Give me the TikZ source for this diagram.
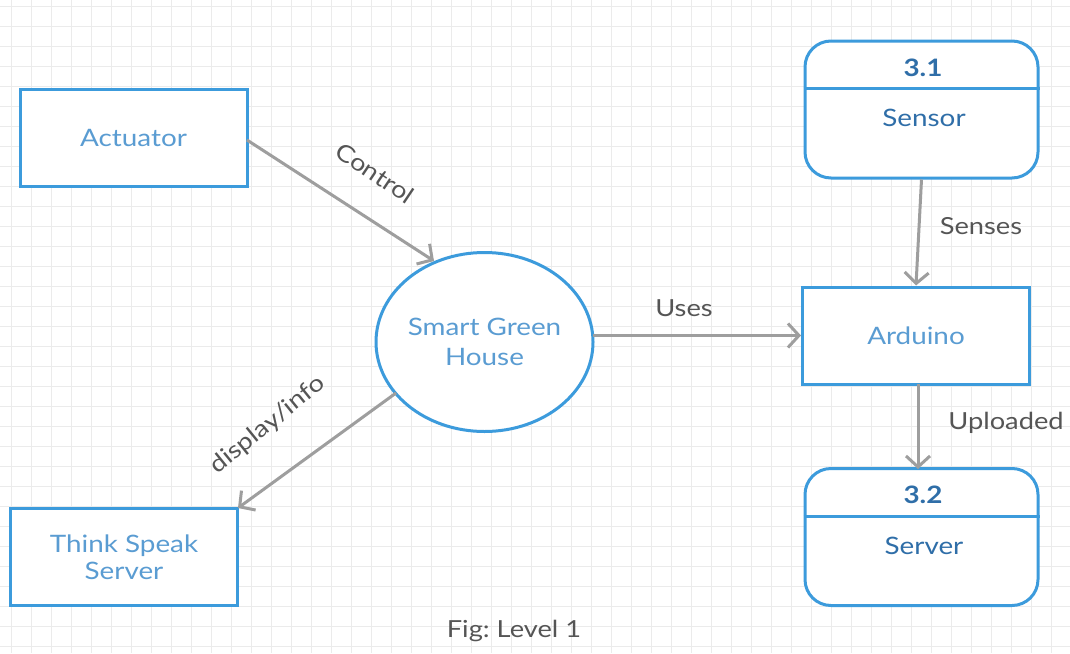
\documentclass[tikz,border=0pt]{standalone}
\usepackage{fontspec}
\setmainfont{Lato}
\newfontfamily\widefont[FakeStretch=1.16]{Lato}
\frenchspacing
\usetikzlibrary{arrows.meta,shapes.geometric}
\definecolor{boxblue}{HTML}{3C9BDC}
\definecolor{txtblue}{HTML}{5A9CD2}
\definecolor{darkblue}{HTML}{2F6EA8}
\definecolor{arrgray}{HTML}{9E9E9E}
\definecolor{lblgray}{HTML}{555555}
\definecolor{gridc}{HTML}{EBEBEB}
\begin{document}
\begin{tikzpicture}[x=1pt,y=-1pt,
  ext/.style={draw=boxblue,line width=3pt,fill=white,rectangle,minimum width=227pt,minimum height=97pt,inner sep=0pt,align=center,text=txtblue,font=\widefont\fontsize{24}{28}\selectfont},
  proc/.style={draw=boxblue,line width=3pt,fill=white,rectangle,rounded corners=26pt,minimum width=233pt,minimum height=137pt,inner sep=0pt},
  flow/.style={draw=arrgray,line width=3pt,-{Straight Barb[length=11pt,width=24pt,line width=3pt]}},
  lbl/.style={text=lblgray,font=\widefont\fontsize{23.5}{27}\selectfont},
  ptitle/.style={text=darkblue,font=\widefont\bfseries\fontsize{24}{28}\selectfont},
  pname/.style={text=darkblue,font=\widefont\fontsize{24}{28}\selectfont}]
\useasboundingbox (0,0) rectangle (1070,653);
\fill[white] (0,0) rectangle (1070,653);
\foreach \i in {0,...,53} {\draw[gridc,line width=1pt] (11+20*\i,0) -- (11+20*\i,653);}
\foreach \j in {0,...,32} {\draw[gridc,line width=1pt] (0,6+20*\j) -- (1070,6+20*\j);}
% external entities
\node[ext] (act) at (133.5,137.5) {Actuator};
\node[ext] (tss) at (124,557) {Think Speak\\[-1pt]Server};
\node[ext] (ard) at (916,335.5) {Arduino};
% central process
\node[draw=boxblue,line width=3pt,fill=white,ellipse,minimum width=217pt,minimum height=179pt,inner sep=0pt,align=center,text=txtblue,font=\widefont\fontsize{24}{30}\selectfont] (sgh) at (484.5,342) {Smart Green\\House};
% processes
\node[proc] (sen) at (921.5,109.5) {};
\draw[boxblue,line width=3pt] ([yshift=-49pt]sen.north west) -- ([yshift=-49pt]sen.north east);
\node[ptitle] (sent) at (923,68) {3.1};
\node[pname] (senn) at (924,118) {Sensor};
\node[proc] (srv) at (921.5,537) {};
\draw[boxblue,line width=3pt] ([yshift=-49pt]srv.north west) -- ([yshift=-49pt]srv.north east);
\node[ptitle] (srvt) at (923,495) {3.2};
\node[pname] (srvn) at (924,546) {Server};
% flows
\coordinate (a1) at (247,140);
\coordinate (a2) at (434,261);
\draw[flow] (a1) -- (a2);
\coordinate (u1) at (593,335.5);
\draw[flow] (u1) -- (ard.west);
\draw[flow] (sen.south) -- (ard.north);
\coordinate (b1) at (918,384);
\coordinate (b2) at (918,469);
\draw[flow] (b1) -- (b2);
\coordinate (c1) at (396,393);
\coordinate (c2) at (238,508);
\draw[flow] (c1) -- (c2);
% labels
\node[lbl,rotate=-34] (lc) at (375,173) {Control};
\node[lbl] (lu) at (684,308) {Uses};
\node[lbl] (ls) at (981,226) {Senses};
\node[lbl] (lup) at (1006,423) {Uploaded};
\node[lbl,rotate=39] (ld) at (268,425) {display/info};
\node[lbl] (fig) at (514,631) {Fig: Level 1};
\end{tikzpicture}
\end{document}
